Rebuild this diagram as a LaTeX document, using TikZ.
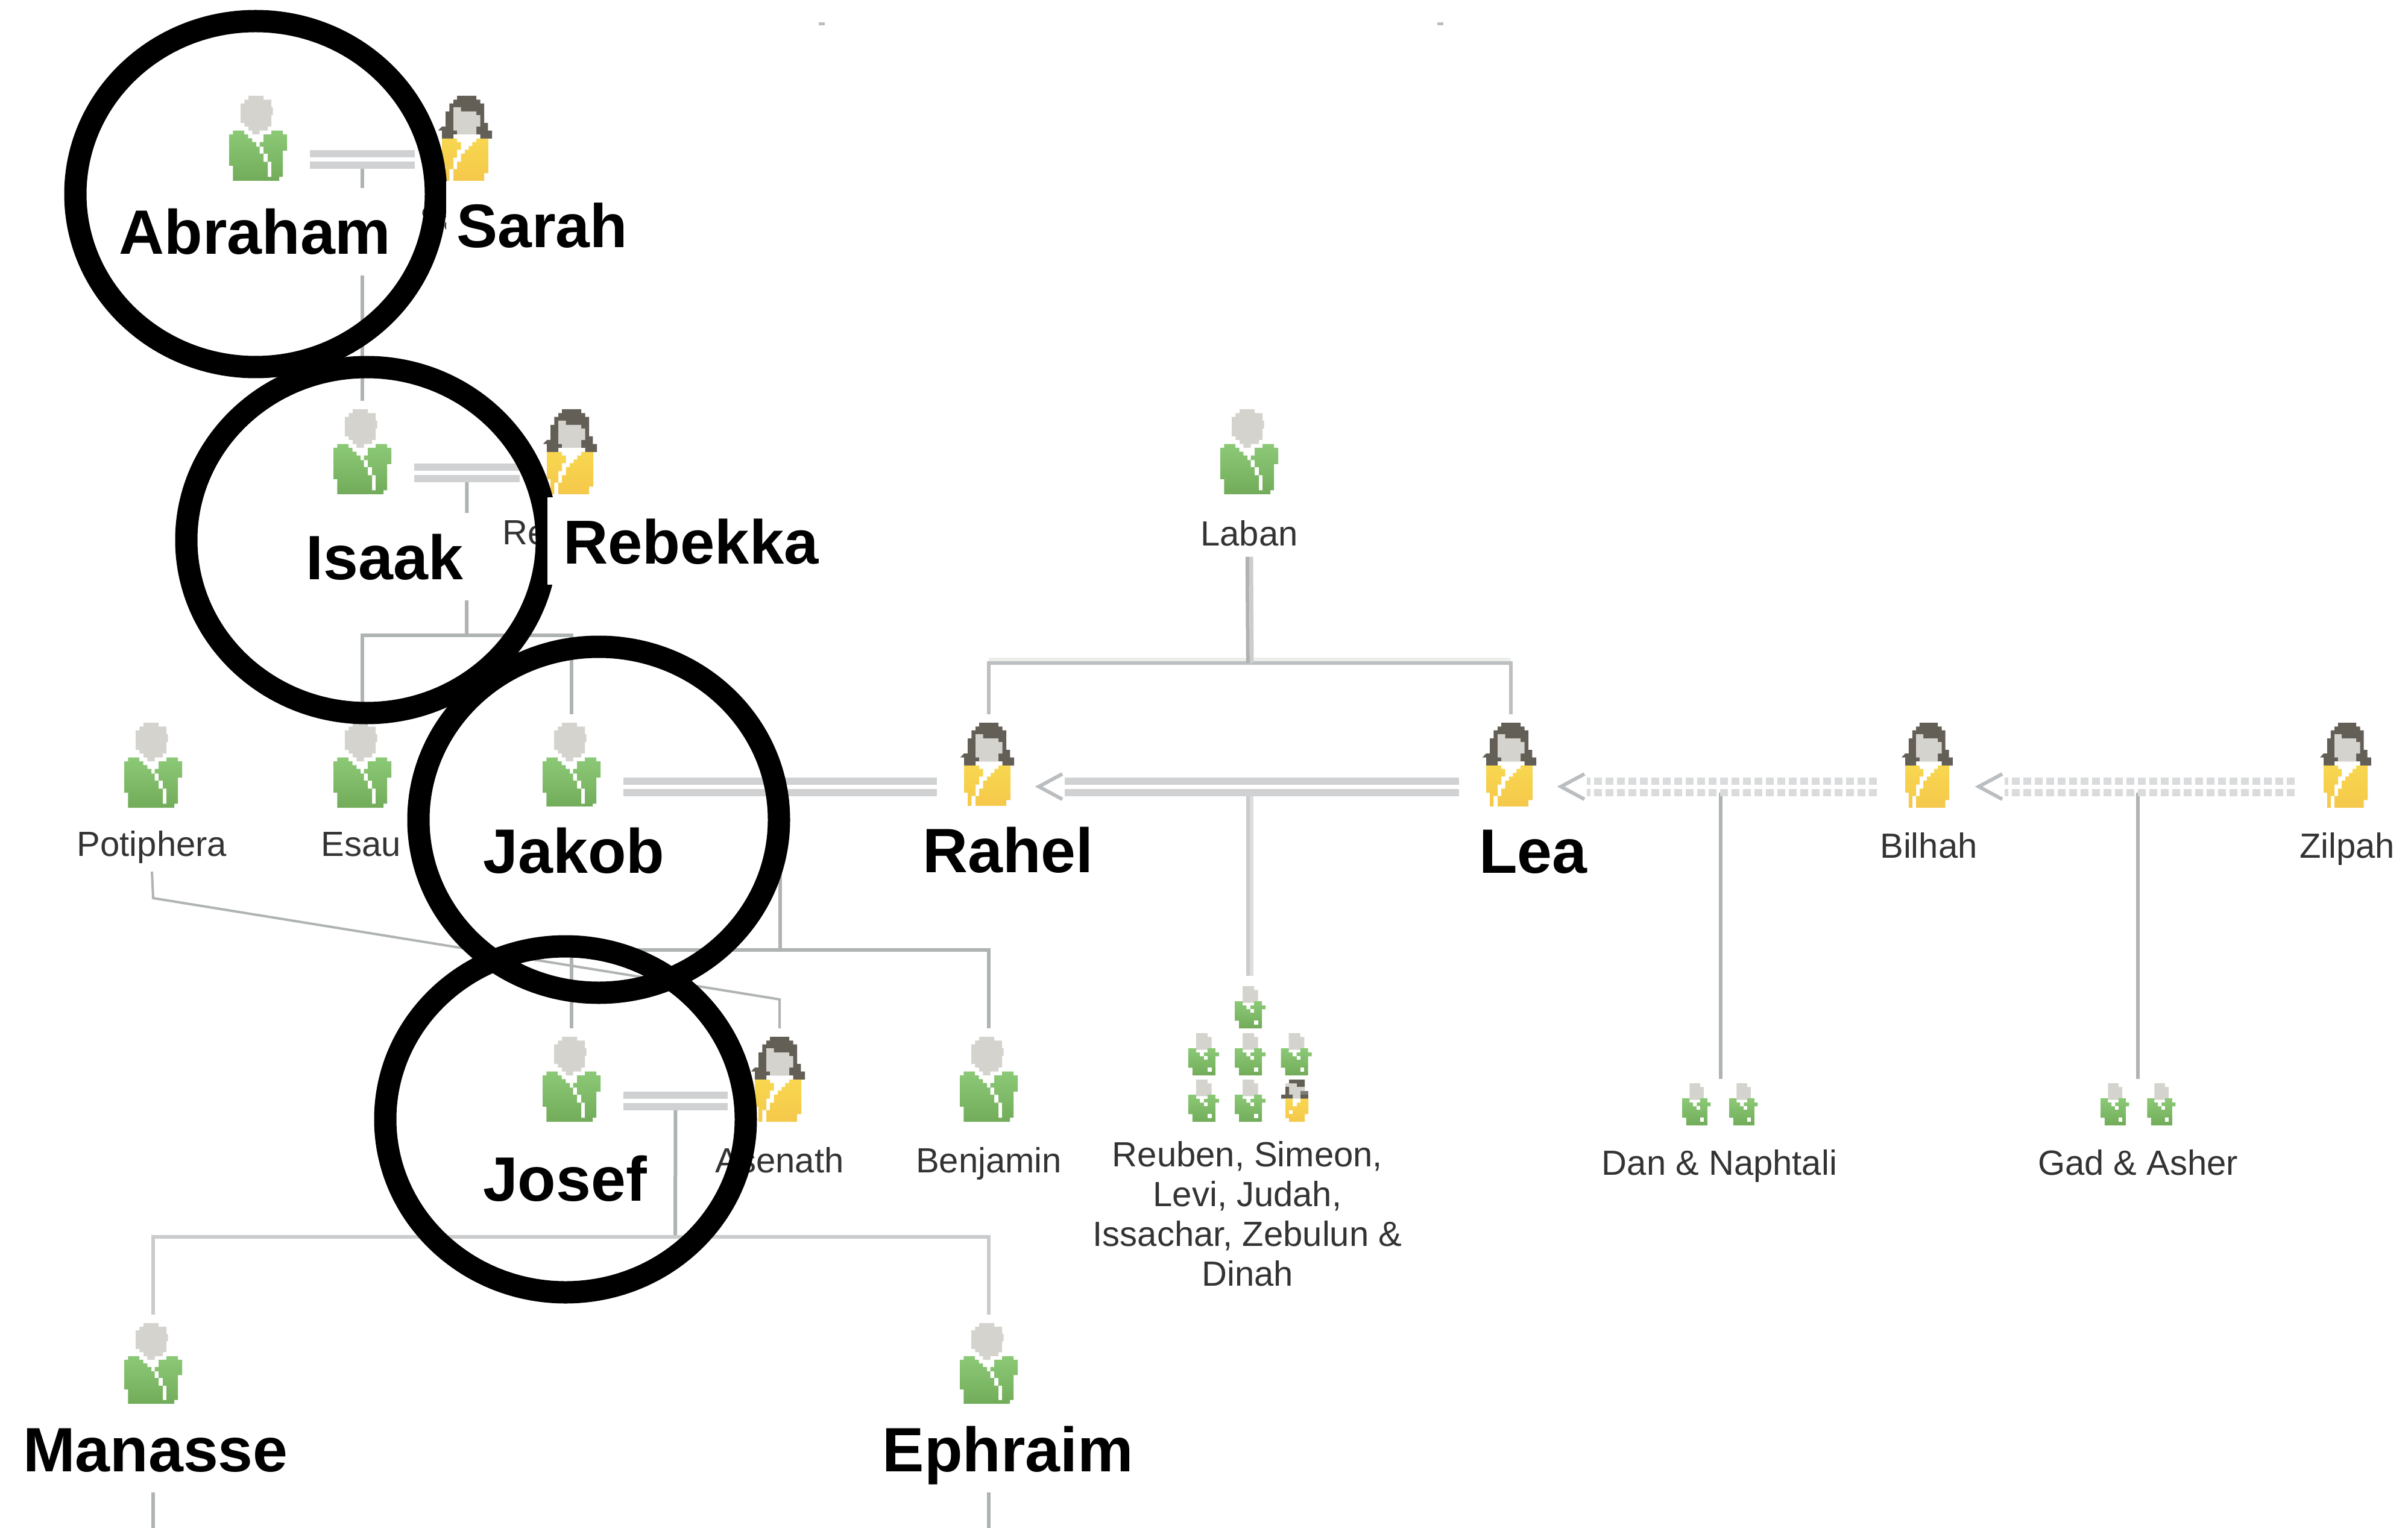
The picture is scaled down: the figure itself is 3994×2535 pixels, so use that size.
\documentclass[tikz,border=0pt]{standalone}
\usepackage{fontspec}
\setmainfont{Liberation Sans}
\usetikzlibrary{calc}
\definecolor{linegray}{HTML}{B0B3B3}
\definecolor{barline}{HTML}{BCBFC1}
\definecolor{faintline}{HTML}{ECEEEC}
\definecolor{halfline}{HTML}{CDCDCD}
\definecolor{lightline}{HTML}{C9CBCD}
\definecolor{lighterline}{HTML}{DCDDDD}
\definecolor{dbl}{HTML}{D0D1D2}
\definecolor{dotline}{HTML}{DADBDC}
\definecolor{chev}{HTML}{BBBEC0}
\definecolor{skin}{HTML}{D5D3CE}
\definecolor{hair}{HTML}{635F57}
\definecolor{hairlight}{HTML}{7F7D76}
\definecolor{mantop}{HTML}{8CC976}
\definecolor{manbot}{HTML}{72AC5A}
\definecolor{womtop}{HTML}{F8D74F}
\definecolor{wombot}{HTML}{F5C84B}
\definecolor{txt}{HTML}{333333}
\tikzset{
  personbox/.style={inner sep=0pt,outer sep=0pt,minimum width=86pt,minimum height=120pt},
  smalllabel/.style={inner sep=7pt,outer sep=0pt,anchor=base,text=txt,font=\fontsize{29pt}{33pt}\selectfont},
  biglabel/.style={inner xsep=12pt,inner ysep=17.5pt,outer sep=0pt,anchor=base,fill=white,text=black,
    text height=37.5pt,text depth=0pt,font=\fontsize{52pt}{56pt}\selectfont\bfseries},
  fam/.style={draw=linegray,line width=3pt},
  faintbar/.style={draw=faintline,line width=3.5pt},
  barfam/.style={draw=barline,line width=3pt},
  halftone/.style={draw=halfline,line width=3.25pt},
  famlight/.style={draw=lightline,line width=3.25pt},
  famlighter/.style={draw=lighterline,line width=3.25pt},
  thinfam/.style={draw=linegray,line width=2pt},
  marriage/.style={draw=dbl,line width=6pt,double=white,double distance=3.5pt},
  concub/.style={draw=dotline,line width=6pt,double=white,double distance=3.5pt,dash pattern=on 6.5pt off 3pt,dash phase=3.5pt},
  chevron/.style={draw=chev,line width=3pt,fill=none},
  ring/.style={draw=black,line width=18.5pt,fill=none}
}
% man icon: #1 x centre, #2 top, #3 xscale, #4 yscale
\newcommand{\manicon}[4]{%
\begin{scope}[shift={(#1,#2)},xscale=#3/3,yscale=#4/3]
\begin{scope}[shift={(-264,-87)}]
\fill[skin] (216,87)--(291,87)--(291,106)--(330,106)--(330,144)--(338,144)--(338,183)--(330,183)--(330,240)--(312,240)--(312,260)--(272,260)--(272,279)--(235,279)--(235,260)--(216,260)--(216,240)--(196,240)--(196,222)--(177,222)--(177,125)--(196,125)--(196,106)--(216,106)--cycle;
\shade[top color=mantop,bottom color=manbot] (139,260)--(195,260)--(195,279)--(215,279)--(215,298)--(235,298)--(235,317)--(255,317)--(255,340)--(272,340)--(272,375)--(291,375)--(291,415)--(312,415)--(312,490)--(330,490)--(330,415)--(312,415)--(312,375)--(291,375)--(291,340)--(272,340)--(272,317)--(291,317)--(291,279)--(330,279)--(330,260)--(387,260)--(387,279)--(408,279)--(408,360)--(387,360)--(387,490)--(369,490)--(369,510)--(139,510)--(139,435)--(120,435)--(120,279)--(139,279)--cycle;
\end{scope}
\end{scope}}
\newcommand{\womicon}[4]{%
\begin{scope}[shift={(#1,#2)},xscale=#3/3,yscale=#4/3]
\begin{scope}[shift={(-1302,-87)}]
\fill[hair] (1254,87)--(1350,87)--(1350,106)--(1370,106)--(1370,125)--(1389,125)--(1389,222)--(1408,222)--(1408,260)--(1428,260)--(1428,300)--(1370,300)--(1370,279)--(1236,279)--(1236,300)--(1179,300)--(1179,260)--(1160,260)--(1179,240)--(1197,240)--(1197,165)--(1216,165)--(1216,125)--(1236,125)--(1236,106)--(1254,106)--cycle;
\fill[skin] (1236,144)--(1274,144)--(1274,165)--(1350,165)--(1350,183)--(1370,183)--(1370,240)--(1350,240)--(1350,279)--(1254,279)--(1254,260)--(1236,260)--cycle;
\shade[top color=womtop,bottom color=wombot] (1179,300)--(1254,300)--(1254,317)--(1274,317)--(1274,355)--(1254,355)--(1254,395)--(1236,395)--(1236,452)--(1216,452)--(1216,510)--(1197,510)--(1197,435)--(1179,435)--cycle
 (1350,300)--(1410,300)--(1410,472)--(1389,472)--(1389,510)--(1236,510)--(1236,452)--(1254,452)--(1254,415)--(1274,415)--(1274,375)--(1293,375)--(1293,355)--(1312,355)--(1312,337)--(1330,337)--(1330,317)--(1350,317)--cycle;
\end{scope}
\end{scope}}
% small man: #1 x centre, #2 top, #3 xscale
\newcommand{\smallman}[3]{%
\begin{scope}[shift={(#1,#2)},xscale=#3/3,yscale=1/3]
\begin{scope}[shift={(-371,-282)}]
\fill[skin] (333,282)--(390,282)--(390,301)--(410,301)--(410,357)--(390,357)--(390,365)--(333,365)--cycle;
\shade[top color=mantop,bottom color=manbot] (294,357)--(333,357)--(333,378)--(352,378)--(352,397)--(372,397)--(372,378)--(390,378)--(390,357)--(429,357)--(429,378)--(447,378)--(447,397)--(429,397)--(429,492)--(315,492)--(315,454)--(294,454)--cycle;
\fill[white] (372,397) rectangle (390,415);
\fill[white] (390,454) rectangle (410,473);
\end{scope}
\end{scope}}
% small woman: #1 x centre, #2 top
\newcommand{\smallwoman}[2]{%
\begin{scope}[shift={(#1,#2)},xscale=1/3,yscale=1/3]
\begin{scope}[shift={(-603,-513)}]
\fill[skin] (546,532)--(603,532)--(603,549)--(642,549)--(642,570)--(621,570)--(621,608)--(582,608)--(582,588)--(564,588)--(564,549)--(546,549)--cycle;
\fill[hair] (564,513)--(642,513)--(642,549)--(603,549)--(603,532)--(564,532)--cycle;
\fill[hair] (546,549)--(564,549)--(564,588)--(582,588)--(582,608)--(525,608)--(525,588)--(546,588)--cycle;
\fill[hair] (621,588) rectangle (660,608);
\fill[hairlight] (621,570) rectangle (660,588);
\shade[top color=womtop,bottom color=wombot] (546,608)--(582,608)--(582,646)--(603,646)--(603,628)--(621,628)--(621,608)--(660,608)--(660,685)--(642,685)--(642,723)--(564,723)--(564,705)--(546,705)--cycle;
\fill[white] (564,665) rectangle (582,685);
\end{scope}
\end{scope}}
\newcommand{\man}[3]{\node[personbox] (#1) at (#2,#3+106) {};}
\begin{document}
\begin{tikzpicture}[x=0.5pt,y=-0.5pt]
\useasboundingbox (0,0) rectangle (3994,2535);
\fill[white] (0,0) rectangle (3994,2535);
% person anchors
\man{abraham}{428}{159}
\man{sarah}{774}{159}
\man{isaak}{601}{679}
\man{rebekka}{948}{679}
\man{laban}{2072}{679}
\man{potiphera}{254}{1199}
\man{esau}{601}{1199}
\man{jakob}{948}{1199}
\man{rahel}{1640}{1199}
\man{lea}{2506}{1199}
\man{bilhah}{3199}{1199}
\man{zilpah}{3893}{1199}
\man{josef}{948}{1720}
\man{asenath}{1293}{1720}
\man{benjamin}{1640}{1720}
\man{manasse}{254}{2195}
\man{ephraim}{1640}{2195}
\coordinate (leakids) at (2073,1619);
\coordinate (bilhahkids) at (2854,1790);
\coordinate (zilpahkids) at (3546,1790);
% small labels
\node[smalllabel] (lpotiphera) at (252,1420) {Potiphera};
\node[smalllabel] (lesau) at (599,1420) {Esau};
\node[smalllabel] (lsarah) at (774,384) {Sarah};
\node[smalllabel] (lrebekka) at (948,903) {Rebekka};
\node[smalllabel] (llaban) at (2072,905) {Laban};
\node[smalllabel] (lbilhah) at (3199,1423) {Bilhah};
\node[smalllabel] (lzilpah) at (3893,1423) {Zilpah};
\node[smalllabel] (lasenath) at (1293,1945) {Asenath};
\node[smalllabel] (lbenjamin) at (1640,1945) {Benjamin};
\node[smalllabel,align=center,anchor=north,inner sep=0pt] (lleakids) at (2069,1893) {Reuben, Simeon,\\Levi, Judah,\\Issachar, Zebulun \&\\Dinah};
\node[smalllabel] (lbilhahkids) at (2852,1949) {Dan \& Naphtali};
\node[smalllabel] (lzilpahkids) at (3546,1949) {Gad \& Asher};
% junctions
\coordinate (jas) at ($(abraham)!.5!(sarah)+(0,10)$);
\coordinate (jir) at ($(isaak)!.5!(rebekka)+(0,10)$);
\coordinate (jjr) at ($(jakob)!.5!(rahel)+(0,10)$);
\coordinate (jjl) at ($(rahel)!.5!(lea)+(0,10)$);
\coordinate (jlb) at ($(lea)!.5!(bilhah)+(0,10)$);
\coordinate (jbz) at ($(bilhah)!.5!(zilpah)+(0,10)$);
\coordinate (jja) at ($(josef)!.5!(asenath)+(0,10)$);
\coordinate (bar1) at (774,1054);
\coordinate (bar2) at (2073,1100);
\coordinate (bar3) at (1294,1576);
\coordinate (bar4) at (1120,2052);
\coordinate (potk1) at (254,1490);
\coordinate (potk2) at (1293,1658);
\coordinate (mbottom) at (254,2535);
\coordinate (ebottom) at (1640,2535);
% big label boxes hide what is under them, so connectors first
\draw[fam] (jas) -- (jas |- isaak.north);
\draw[fam] (jir) -- (bar1);
\draw[fam] (esau.north) -- (esau.north |- bar1) -- (jakob.north |- bar1) -- (jakob.north);
\draw[faintbar,transform canvas={yshift=3pt}] (rahel |- bar2) -- (lea |- bar2);
\draw[barfam] (rahel.north) -- (rahel.north |- bar2) -- (lea.north |- bar2) -- (lea.north);
\draw[halftone,transform canvas={xshift=1.6pt}] ($(llaban.south)+(0,4)$) -- (bar2);
\draw[fam,transform canvas={xshift=-1.6pt}] ($(llaban.south)+(0,4)$) -- (bar2);
\draw[fam] (jjr) -- (bar3);
\draw[fam] (jakob.north |- bar3) -- (benjamin.north |- bar3) -- (benjamin.north);
\draw[fam] (jakob.north |- bar3) -- (josef.north);
\draw[thinfam] (lpotiphera.south) -- (potk1) -- (potk2) -- (asenath.north);
\draw[fam] (jja) -- (bar4);
\draw[famlight] (manasse.north) -- (manasse.north |- bar4) -- (ephraim.north |- bar4) -- (ephraim.north);
\draw[famlighter,transform canvas={xshift=1.6pt}] (jjl) -- (leakids);
\draw[famlight,transform canvas={xshift=-1.6pt}] (jjl) -- (leakids);
\draw[fam] (jlb -| bilhahkids) -- (bilhahkids);
\draw[fam] (jbz) -- (zilpahkids);
\draw[marriage] (abraham.east) -- (sarah.west);
\draw[marriage] (isaak.east) -- (rebekka.west);
\draw[marriage] (jakob.east) -- (rahel.west);
\draw[marriage] (josef.east) -- (asenath.west);
\draw[marriage] ($(rahel.east)+(40,0)$) -- (lea.west);
\draw[concub] ($(lea.east)+(40,0)$) -- (bilhah.west);
\draw[concub] ($(bilhah.east)+(40,0)$) -- (zilpah.west);
\draw[chevron] ($(rahel.east)+(36,-21)$) -- ($(rahel.east)+(-3,0)$) -- ($(rahel.east)+(36,21)$);
\draw[chevron] ($(lea.east)+(36,-21)$) -- ($(lea.east)+(-3,0)$) -- ($(lea.east)+(36,21)$);
\draw[chevron] ($(bilhah.east)+(36,-21)$) -- ($(bilhah.east)+(-3,0)$) -- ($(bilhah.east)+(36,21)$);
% icons
\manicon{428}{159}{1}{1}
\womicon{774}{159}{1}{1}
\manicon{601}{679}{1}{1}
\womicon{948}{679}{1}{1}
\manicon{2072}{679}{1}{1}
\manicon{254}{1199}{1}{1}
\manicon{601}{1199}{1}{1}
\manicon{948}{1199}{1}{1}
\womicon{1640}{1199}{1}{1}
\womicon{2506}{1199}{1}{1}
\womicon{3199}{1199}{.95}{1}
\womicon{3893}{1199}{.95}{1}
\manicon{948}{1720}{1}{1}
\womicon{1293}{1720}{1}{1}
\manicon{1640}{1720}{1}{1}
\manicon{254}{2195}{1}{.95}
\manicon{1640}{2195}{1}{.95}
% small icons
\smallman{2073.7}{1636}{1}
\smallman{1996.5}{1714}{1}
\smallman{2073.7}{1714}{1}
\smallman{2150.3}{1714}{1}
\smallman{1996.5}{1791}{1}
\smallman{2073.7}{1791}{1}
\smallwoman{2151}{1791}
\smallman{2814}{1797}{.92}
\smallman{2892}{1797}{.92}
\smallman{3508}{1797}{.92}
\smallman{3585}{1797}{.92}
% tiny marks at the top
\fill[chev] (1358,37) rectangle (1368,42);
\fill[chev] (2384,37) rectangle (2394,42);
% big labels
\node[biglabel] (labraham) at (423,422) {Abraham};
\node[biglabel] (lisaak) at (638,961) {Isaak};
\node[biglabel] (ljakob) at (952,1448) {Jakob};
\node[biglabel] (ljosef) at (937,1992) {Josef};
\node[biglabel] (lrahel) at (1672,1447) {Rahel};
\node[biglabel] (llea) at (2543,1448) {Lea};
\node[biglabel] (lmanasse) at (258,2441) {Manasse};
\node[biglabel] (lephraim) at (1672,2441) {Ephraim};
\draw[fam] (lmanasse.south -| mbottom) -- (mbottom);
\draw[fam] (lephraim.south -| ebottom) -- (ebottom);
% rings
\draw[ring] (424,322) ellipse [x radius=299,y radius=287];
\draw[ring] (608,896) ellipse [x radius=299,y radius=287];
\draw[ring] (993,1360) ellipse [x radius=299,y radius=287];
\draw[ring] (938,1857) ellipse [x radius=299,y radius=287];
\node[biglabel,inner xsep=8.5pt,font=\fontsize{51pt}{55pt}\selectfont\bfseries] (lsarahbig) at (899,411) {Sarah};
\node[biglabel,inner xsep=13pt,font=\fontsize{51.5pt}{55pt}\selectfont\bfseries] (lrebekkabig) at (1146,935) {Rebekka};
\end{tikzpicture}
\end{document}
